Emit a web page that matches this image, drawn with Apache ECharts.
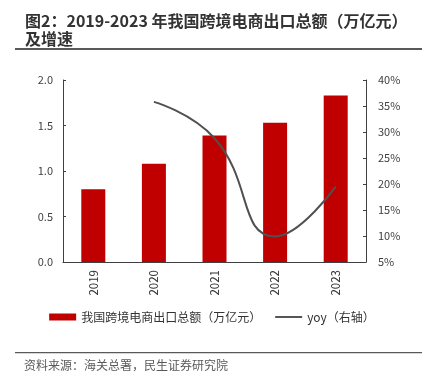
<!DOCTYPE html>
<html><head><meta charset="utf-8">
<script src="https://cdn.jsdelivr.net/npm/echarts@6/dist/echarts.min.js"></script>
<style>html,body{margin:0;padding:0;background:#fff}#c{width:424px;height:388px}</style>
</head><body><div id="c"></div>
<script>
var categories = ['2019', '2020', '2021', '2022', '2023'];
var exportValues = [0.80, 1.08, 1.39, 1.53, 1.83];
var yoyValues = [null, 35.8, 28.8, 9.9, 19.5];
var leftTicks = { min: 0, max: 2, interval: 0.5 };
var rightTicks = { min: 5, max: 40, interval: 5 };
var barName = '我国跨境电商出口总额（万亿元）';
var lineName = 'yoy（右轴）';

var FONT = '"Noto Sans CJK SC", "Noto Sans", sans-serif';
var chart = echarts.init(document.getElementById('c'));
chart.setOption({
  animation: false,
  textStyle: { fontFamily: FONT },
  graphic: [
    { type: 'text', left: 25, top: 12, style: { text: '图2：2019-2023 年我国跨境电商出口总额（万亿元）\n及增速', font: 'bold 16px ' + FONT, fill: '#333', lineHeight: 18 } },
    { type: 'rect', shape: { x: 15, y: 48, width: 407, height: 2 }, style: { fill: '#595959' } },
    { type: 'rect', shape: { x: 15, y: 352, width: 407, height: 1.2 }, style: { fill: '#595959' } },
    { type: 'text', left: 24, top: 359, style: { text: '资料来源：海关总署，民生证券研究院', font: '12px ' + FONT, fill: '#595959' } }
  ],
  grid: { left: 63, right: 58, top: 80, bottom: 126 },
  legend: {
    bottom: 60, left: 'center', itemGap: 14, itemWidth: 27, itemHeight: 7,
    textStyle: { fontSize: 12, color: '#333', fontFamily: FONT },
    data: [
      { name: barName, icon: 'rect' },
      { name: lineName, icon: 'path://M0,0M0,7M0,2.5H28V4.5H0Z', itemStyle: { color: '#505050' } }
    ]
  },
  xAxis: {
    type: 'category', data: categories,
    axisLine: { lineStyle: { color: '#404040', width: 1 } },
    axisTick: { inside: true, length: 3, lineStyle: { color: '#404040' } },
    axisLabel: { rotate: 90, color: '#333', fontSize: 11.5, margin: 8, fontFamily: FONT }
  },
  yAxis: [
    { type: 'value', min: leftTicks.min, max: leftTicks.max, interval: leftTicks.interval,
      axisLine: { show: true, lineStyle: { color: '#404040' } },
      axisTick: { show: true, inside: true, length: 3, lineStyle: { color: '#404040' } },
      splitLine: { show: false },
      axisLabel: { color: '#404040', fontSize: 11, margin: 10, formatter: function (v) { return v.toFixed(1); } } },
    { type: 'value', min: rightTicks.min, max: rightTicks.max, interval: rightTicks.interval, position: 'right',
      axisLine: { show: true, lineStyle: { color: '#404040' } },
      axisTick: { show: true, inside: true, length: 3, lineStyle: { color: '#404040' } },
      splitLine: { show: false },
      axisLabel: { color: '#404040', fontSize: 11, margin: 12, formatter: '{value}%' } }
  ],
  series: [
    { name: barName, type: 'bar', data: exportValues, barWidth: 24,
      itemStyle: { color: '#C00000' } },
    { name: lineName, type: 'line', yAxisIndex: 1, data: yoyValues, smooth: 0.5,
      symbol: 'none', connectNulls: false,
      lineStyle: { color: '#505050', width: 2 }, itemStyle: { color: '#505050' } }
  ]
});
</script></body></html>
